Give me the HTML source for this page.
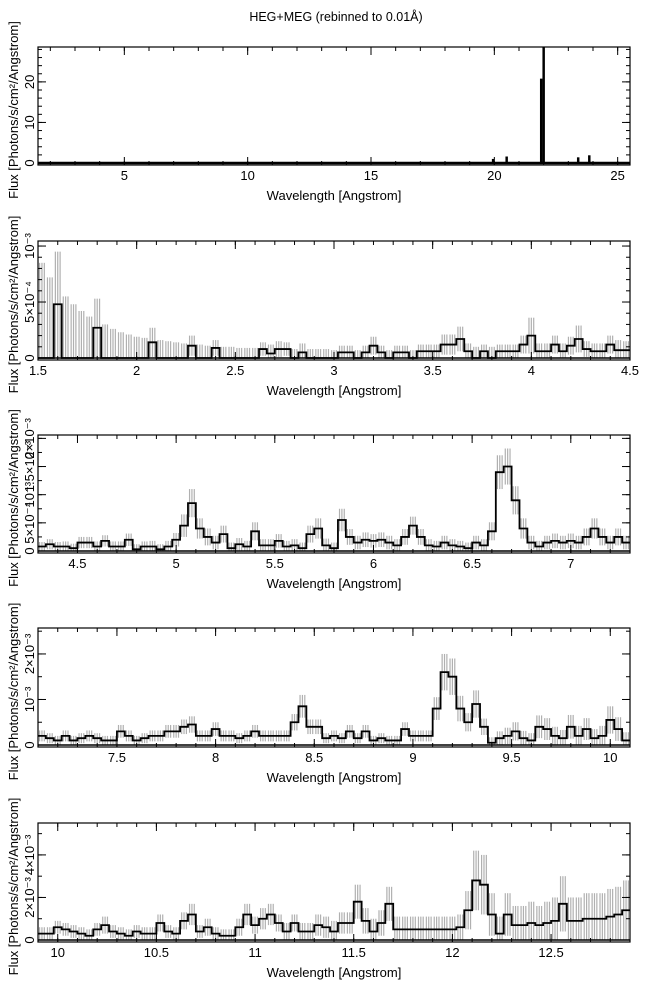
<!DOCTYPE html>
<html><head><meta charset="utf-8">
<style>
html,body{margin:0;padding:0;background:#fff;}
svg{display:block;font-family:"Liberation Sans",Arial,sans-serif;}
</style></head>
<body>
<svg id="chart" width="650" height="991" viewBox="0 0 650 991">
<text x="336" y="21" font-size="12.5" text-anchor="middle">HEG+MEG (rebinned to 0.01Å)</text>
</svg>
<script>
// ---------- DATA ----------
const p1Wave = [19.95, 20.5, 21.9, 22.0, 23.4, 23.85];
const p1Flux = [1.0, 1.6, 20.8, 28.5, 1.4, 1.9];
const p1Ticks = [5, 10, 15, 20, 25];
const p1YTicks = [0, 10, 20];
const p1YLabels = ["0", "10", "20"];

const p2Flux = [0,0,4.8,0,0,0,0,2.7,0,0,0,0,0,0,1.4,0,0,0,0,1.1,0,0,0.9,0,0,0,0,0,0.8,0.4,0.8,0.8,0,0.5,0,0,0,0,0.5,0.5,0,0.5,1.1,0.5,0,0.5,0.5,0,0.6,0.6,0.6,1.2,1.2,1.7,0.6,0,0.6,0,0.6,0.6,0.6,1.2,2.0,0.6,0.6,1.2,0.6,1.1,1.7,0.8,0.6,0.6,1.2,0.7,0.7];
const p2Err = [8.5,7.2,4.7,5.5,4.8,4.2,3.7,2.6,3.0,2.6,2.3,2.1,1.9,1.8,1.3,1.6,1.5,1.4,1.3,0.9,1.2,1.1,0.7,1.0,1.0,0.9,0.9,0.9,0.6,0.8,0.7,0.6,0.8,0.8,0.8,0.8,0.8,0.7,0.6,0.6,0.7,0.6,0.8,0.6,0.7,0.6,0.6,0.7,0.6,0.6,0.6,0.9,0.9,1.1,0.7,1.0,0.6,1.0,0.6,0.6,0.6,0.8,1.6,0.7,0.7,0.8,0.7,0.8,1.2,0.7,0.7,0.7,0.8,0.9,0.8];
const p3Flux = [0.8,1.2,0.8,0.8,0.5,1.5,1.5,0.8,1.8,0.8,0.8,2.0,0.3,0.8,0.8,0.3,0.8,2.0,4.5,8.5,4.0,2.5,1.5,3.0,0.5,1.2,0.8,3.5,1.0,1.0,1.8,0.8,1.0,0.5,3.0,4.0,1.0,0.5,5.5,2.5,1.5,2.0,1.8,2.0,1.5,1.0,2.5,4.5,2.5,1.0,0.8,1.5,1.0,0.8,0.5,1.5,1.0,3.5,14.0,15.0,9.0,4.0,1.5,0.8,1.5,1.8,1.5,1.8,1.5,2.5,4.0,2.5,1.5,2.5,1.5];
const p3Err = [0.8,0.9,0.8,0.9,0.8,1.0,1.0,0.9,1.0,0.9,0.9,1.1,0.9,0.9,1.0,0.9,1.0,1.2,2.0,2.5,1.8,1.5,1.2,1.5,1.0,1.1,1.0,1.6,1.1,1.1,1.2,1.0,1.1,1.0,1.5,1.8,1.2,1.0,2.0,1.4,1.2,1.3,1.2,1.3,1.2,1.1,1.4,1.6,1.4,1.1,1.0,1.2,1.1,1.0,1.0,1.2,1.1,1.6,3.0,3.2,2.5,1.8,1.2,1.0,1.2,1.3,1.2,1.3,1.2,1.5,1.8,1.5,1.2,1.5,1.2];
const p4Flux = [2.0,1.5,1.0,2.0,1.0,1.5,2.0,1.5,1.0,1.0,3.0,2.0,1.0,1.5,2.0,2.0,3.0,3.0,4.0,4.5,2.0,2.0,3.5,2.0,2.0,1.5,2.0,3.0,2.0,2.0,2.0,2.0,5.0,8.5,4.0,4.0,1.5,2.0,1.5,3.0,1.5,3.0,1.0,1.5,1.0,1.0,3.5,2.0,2.0,2.0,8.0,16.0,15.0,8.0,5.0,9.0,4.0,0.5,1.5,2.0,3.0,1.5,1.0,4.0,3.5,2.0,1.5,4.0,2.0,3.5,1.5,2.0,5.5,3.5,1.0];
const p4Err = [1.2,1.1,1.0,1.2,1.0,1.1,1.2,1.1,1.0,1.0,1.4,1.2,1.0,1.1,1.2,1.2,1.4,1.4,1.6,1.8,1.2,1.2,1.5,1.2,1.2,1.1,1.2,1.4,1.2,1.2,1.2,1.2,1.8,2.5,1.6,1.6,1.1,1.2,1.1,1.4,1.1,1.4,1.0,1.1,1.0,1.0,1.5,1.2,1.2,1.2,2.5,4.0,4.0,2.8,2.0,3.0,1.8,1.2,1.5,1.8,2.0,1.6,1.6,2.5,2.4,2.0,1.8,2.6,2.2,2.4,2.0,2.2,3.0,2.6,1.8];
const p5Flux = [3,3,6,5,4,3,2,5,7,4,3,2,4,3,3,8,4,3,9,12,4,6,3,2,2,6,12,7,10,12,8,4,8,4,4,7,6,4,8,8,18,9,4,8,17,5,5,5,5,5,5,5,5,6,14,28,26,12,3,12,7,7,8,7,8,9,17,9,9,10,10,10,11,12,14];
const p5Err = [3,3,3,3,3,3,3,3,4,3,3,3,3,3,3,4,3,3,4,5,3,4,3,3,3,4,5,4,5,5,4,4,4,4,4,5,5,5,5,5,8,6,6,6,8,6,6,6,6,6,6,6,6,6,9,14,14,10,8,10,9,9,10,9,10,11,13,11,11,12,12,12,13,13,14];

const panelRanges = [[1.5,25.5],[1.5,4.5],[4.3,7.3],[7.1,10.1],[9.9,12.9]];
const xTicks2 = [1.5,2,2.5,3,3.5,4,4.5];
const xTicks3 = [4.5,5,5.5,6,6.5,7];
const xTicks4 = [7.5,8,8.5,9,9.5,10];
const xTicks5 = [10,10.5,11,11.5,12,12.5];
const yTicks2 = [0,5,10];
const yLabels2 = ["0","5×10⁻⁴","10⁻³"];
const yTicks3 = [0,5,10,15,20];
const yLabels3 = ["0","5×10⁻⁴","10⁻³","1.5×10⁻³","2×10⁻³"];
const yTicks4 = [0,10,20];
const yLabels4 = ["0","10⁻³","2×10⁻³"];
const yTicks5 = [0,20,40];
const yLabels5 = ["0","2×10⁻³","4×10⁻³"];

// ---------- DRAW ----------
const NS = "http://www.w3.org/2000/svg";
const svg = document.getElementById("chart");
const L = 38, R = 630;
const FS = 13;
const boxes = [
  {top:47, bottom:165, y0:163, ymax:28.6},
  {top:241, bottom:360, y0:358, ymax:10.45},
  {top:435, bottom:553, y0:551, ymax:20.6},
  {top:628, bottom:747, y0:745, ymax:25.7},
  {top:823, bottom:942, y0:940, ymax:55}
];
function mk(tag, attrs, parent){
  const e = document.createElementNS(NS, tag);
  for (const k in attrs) e.setAttribute(k, attrs[k]);
  (parent||svg).appendChild(e);
  return e;
}
function fmt(v){ return String(v); }

function drawPanel(pi, xTicks, xLabels, minorX, yTicks, yLabels, minorY){
  const b = boxes[pi];
  const [x0, x1] = panelRanges[pi];
  const xs = v => L + (v - x0) / (x1 - x0) * (R - L);
  const ys = v => b.y0 - v / b.ymax * (b.y0 - b.top);
  const g = mk("g", {});
  
  
  return {g, xs, ys, b, x0, x1, xTicks, xLabels, minorX, yTicks, yLabels, minorY};
}
function finishPanel(P, pi){
  const {g, xs, ys, b, x0, x1} = P;
  const rect = mk("rect", {x:L, y:b.top, width:R-L, height:b.bottom-b.top, fill:"none", stroke:"#000", "stroke-width":1.2}, g);
  
  
  const axg = mk("g", {}, g);
  
  
  for (let v = Math.ceil(x0 / P.minorX - 1e-6) * P.minorX; v <= x1 + 1e-9; v += P.minorX) {
    const x = xs(v);
    mk("line", {x1:x, x2:x, y1:b.bottom, y2:b.bottom-4, stroke:"#000"}, axg);
    mk("line", {x1:x, x2:x, y1:b.top, y2:b.top+4, stroke:"#000"}, axg);
  }
  P.xTicks.forEach((v, i) => {
    const x = xs(v);
    mk("line", {x1:x, x2:x, y1:b.bottom, y2:b.bottom-8, stroke:"#000"}, axg);
    mk("line", {x1:x, x2:x, y1:b.top, y2:b.top+8, stroke:"#000"}, axg);
    const t = mk("text", {x:x, y:b.bottom+15, "font-size":FS, "text-anchor":"middle"}, axg);
    t.textContent = P.xLabels[i];
    
    
  });
  const xl = mk("text", {x:(L+R)/2, y:b.bottom+35, "font-size":FS, "text-anchor":"middle"}, g);
  xl.textContent = "Wavelength [Angstrom]";
  
  
  const ayg = mk("g", {}, g);
  
  
  for (let v = 0; v <= b.ymax + 1e-9; v += P.minorY) {
    const y = ys(v);
    mk("line", {x1:L, x2:L+4, y1:y, y2:y, stroke:"#000"}, ayg);
    mk("line", {x1:R, x2:R-4, y1:y, y2:y, stroke:"#000"}, ayg);
  }
  P.yTicks.forEach((v, i) => {
    const y = ys(v);
    mk("line", {x1:L, x2:L+8, y1:y, y2:y, stroke:"#000"}, ayg);
    mk("line", {x1:R, x2:R-8, y1:y, y2:y, stroke:"#000"}, ayg);
    const t = mk("text", {x:0, y:0, "font-size":FS, "text-anchor":"middle", transform:`translate(${L-4},${y}) rotate(-90)`}, ayg);
    t.textContent = P.yLabels[i];
    
    
  });
  const cy = (b.top + b.bottom) / 2 + 4;
  const yl = mk("text", {x:0, y:0, "font-size":FS, "text-anchor":"middle", transform:`translate(18,${cy}) rotate(-90)`}, g);
  yl.textContent = "Flux [Photons/s/cm²/Angstrom]";
  
  
}

function drawHist(P, flux, err){
  const {g, xs, ys, x0, x1} = P;
  const n = flux.length;
  const w = (x1 - x0) / n;
  const eg = mk("g", {stroke:"#b0b0b0", "stroke-width":1.2}, g);
  
  
  for (let i = 0; i < n; i++) {
    const e = err[i] || 0;
    [0.2, 0.5, 0.8].forEach(f => {
      const x = xs(x0 + (i + f) * w);
      const l = mk("line", {x1:x, x2:x, y1:ys(Math.max(0, flux[i]-e)), y2:ys(flux[i]+e)}, eg);
      
      
    });
  }
  let d = "";
  for (let i = 0; i < n; i++) {
    const xa = xs(x0 + i*w), xb = xs(x0 + (i+1)*w), y = ys(flux[i]);
    d += (i === 0 ? `M${xa},${y}` : `L${xa},${y}`) + `L${xb},${y}`;
  }
  const p = mk("path", {d, fill:"none", stroke:"#000", "stroke-width":1.8}, g);
  
  
  const base = mk("line", {x1:xs(x0), x2:xs(x1), y1:ys(0), y2:ys(0), stroke:"#000", "stroke-width":1.5}, g);
  
  
}

{
  const P = drawPanel(0, p1Ticks, p1Ticks.map(fmt), 1, p1YTicks, p1YLabels, 2);
  const {g, xs, ys} = P;
  const base = mk("line", {x1:L, x2:R, y1:ys(0), y2:ys(0), stroke:"#000", "stroke-width":2.5}, g);
  
  
  const bw = 0.1;
  p1Wave.forEach((wv, i) => {
    const xa = xs(wv - bw/2), xb = xs(wv + bw/2);
    const r = mk("rect", {x:xa, y:ys(p1Flux[i]), width:Math.max(2, xb-xa), height:ys(0)-ys(p1Flux[i]), fill:"#000"}, g);
    
    
  });
  finishPanel(P, 0);
}
{ const P = drawPanel(1, xTicks2, xTicks2.map(fmt), 0.1, yTicks2, yLabels2, 1);
  drawHist(P, p2Flux, p2Err); finishPanel(P, 1); }
{ const P = drawPanel(2, xTicks3, xTicks3.map(fmt), 0.1, yTicks3, yLabels3, 2.5);
  drawHist(P, p3Flux, p3Err); finishPanel(P, 2); }
{ const P = drawPanel(3, xTicks4, xTicks4.map(fmt), 0.1, yTicks4, yLabels4, 5);
  drawHist(P, p4Flux, p4Err); finishPanel(P, 3); }
{ const P = drawPanel(4, xTicks5, xTicks5.map(fmt), 0.1, yTicks5, yLabels5, 10);
  drawHist(P, p5Flux, p5Err); finishPanel(P, 4); }
</script>
</body></html>
